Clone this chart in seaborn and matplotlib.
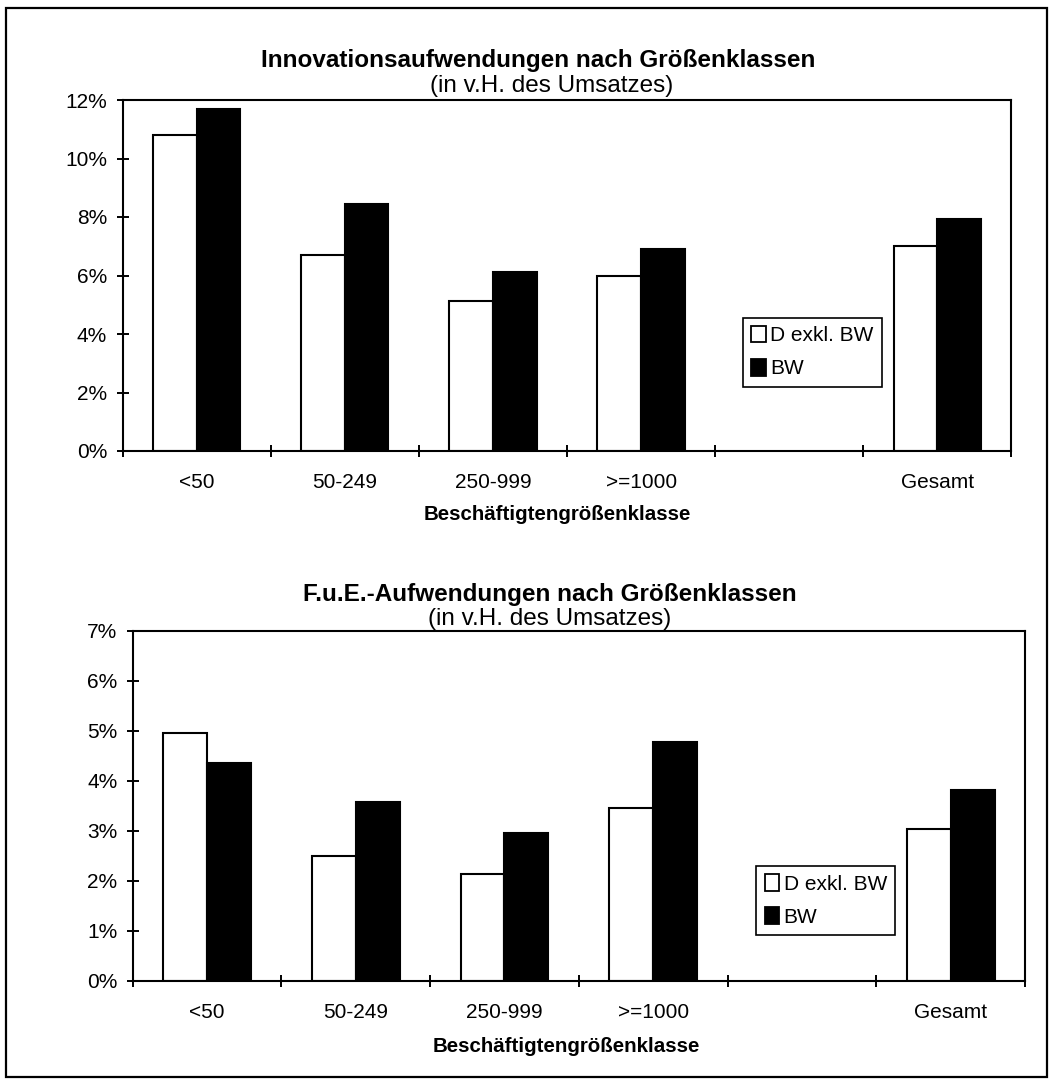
import numpy as np
import pandas as pd
import matplotlib
matplotlib.use('Agg')
import matplotlib.pyplot as plt
from matplotlib.patches import Patch, Rectangle
from matplotlib.ticker import FuncFormatter, FixedLocator
import seaborn as sns

# Werte (in % des Umsatzes)
klassen = ['<50', '50-249', '250-999', '>=1000', '', 'Gesamt']
gruppen = ['D exkl. BW', 'BW']

innov_d_exkl_bw = [10.8, 6.7, 5.13, 6.0, np.nan, 7.0]
innov_bw = [11.7, 8.43, 6.13, 6.92, np.nan, 7.93]

fue_d_exkl_bw = [4.96, 2.5, 2.15, 3.47, np.nan, 3.04]
fue_bw = [4.36, 3.59, 2.97, 4.78, np.nan, 3.82]

titel_oben = 'Innovationsaufwendungen nach Größenklassen'
titel_unten = 'F.u.E.-Aufwendungen nach Größenklassen'
untertitel = '(in v.H. des Umsatzes)'
x_label = 'Beschäftigtengrößenklasse'

sns.set_style('white')
plt.rcParams['font.family'] = ['Liberation Sans', 'DejaVu Sans']
plt.rcParams['text.color'] = 'black'
plt.rcParams['axes.labelcolor'] = 'black'
plt.rcParams['xtick.color'] = 'black'
plt.rcParams['ytick.color'] = 'black'

farben = {'D exkl. BW': 'white', 'BW': 'black'}


def make_df(d_werte, bw_werte):
    rows = []
    for k, a, b in zip(klassen, d_werte, bw_werte):
        rows.append({'Klasse': k, 'Gruppe': gruppen[0], 'Wert': a})
        rows.append({'Klasse': k, 'Gruppe': gruppen[1], 'Wert': b})
    return pd.DataFrame(rows)


W, H = 1053, 1083
fig = plt.figure(figsize=(W / 100, H / 100), dpi=100)

# Achsen-Positionen aus Pixeln der Vorlage
ax1 = fig.add_axes([122.5 / W, 1 - 451 / H, 889 / W, 351 / H])
ax2 = fig.add_axes([132.7 / W, 1 - 981 / H, 892.3 / W, 350 / H])


def draw_panel(ax, df, ymax, ystep, legend_anchor):
    sns.barplot(data=df, x='Klasse', y='Wert', hue='Gruppe', order=klassen,
                hue_order=gruppen, palette=farben, saturation=1,
                edgecolor='black', linewidth=1.5, width=0.59, errorbar=None,
                legend=False, ax=ax)
    ax.set_xlim(-0.5, len(klassen) - 0.5)
    ax.set_ylim(0, ymax)
    ax.set_yticks(np.arange(0, ymax + 0.01, ystep))
    ax.yaxis.set_major_formatter(FuncFormatter(lambda v, p: f'{v:.0f}%'))
    ax.tick_params(axis='y', direction='inout', length=8, width=1.4,
                   labelsize=15, pad=7, left=True, colors='black')
    # Kategorie-Beschriftungen ohne Striche, Striche an den Grenzen
    ax.tick_params(axis='x', which='major', length=0, labelsize=15, pad=16,
                   colors='black')
    ax.xaxis.set_minor_locator(FixedLocator(np.arange(-0.5, len(klassen), 1.0)))
    ax.tick_params(axis='x', which='minor', direction='inout', length=8.5,
                   width=1.4, bottom=True, colors='black')
    ax.set_xlabel('')
    ax.set_ylabel('')
    for s in ax.spines.values():
        s.set_visible(True)
        s.set_color('black')
        s.set_linewidth(1.5)
    handles = [Patch(facecolor=farben[g], edgecolor='black', linewidth=1.3, label=g)
               for g in gruppen]
    leg = ax.legend(handles=handles, loc='lower left', bbox_to_anchor=legend_anchor,
                    fontsize=15, frameon=True, fancybox=False, edgecolor='black',
                    framealpha=1, handlelength=0.7, handleheight=0.85,
                    handletextpad=0.2, labelspacing=0.65, borderpad=0.4,
                    borderaxespad=0)
    leg.get_frame().set_linewidth(1.2)
    for t in leg.get_texts():
        t.set_color('black')


draw_panel(ax1, make_df(innov_d_exkl_bw, innov_bw), 12, 2, (0.698, 0.183))
draw_panel(ax2, make_df(fue_d_exkl_bw, fue_bw), 7, 1, (0.699, 0.131))

# Titel und Achsentitel
fig.text(538 / W, 1 - 61 / H, titel_oben, ha='center', va='center',
         fontsize=17.5, fontweight='bold')
fig.text(552 / W, 1 - 86 / H, untertitel, ha='center', va='center', fontsize=17.5)
fig.text(557 / W, 1 - 515 / H, x_label, ha='center', va='center',
         fontsize=14.8, fontweight='bold')

fig.text(550 / W, 1 - 594 / H, titel_unten, ha='center', va='center',
         fontsize=17.5, fontweight='bold')
fig.text(550 / W, 1 - 619 / H, untertitel, ha='center', va='center', fontsize=17.5)
fig.text(566 / W, 1 - 1047 / H, x_label, ha='center', va='center',
         fontsize=14.8, fontweight='bold')

# Rahmen um die ganze Grafik
fig.add_artist(Rectangle((6 / W, 1 - 1077 / H), (1047 - 6) / W, (1077 - 8) / H,
                         transform=fig.transFigure, fill=False,
                         edgecolor='black', linewidth=1.6))

fig.savefig('out.png', dpi=100)
